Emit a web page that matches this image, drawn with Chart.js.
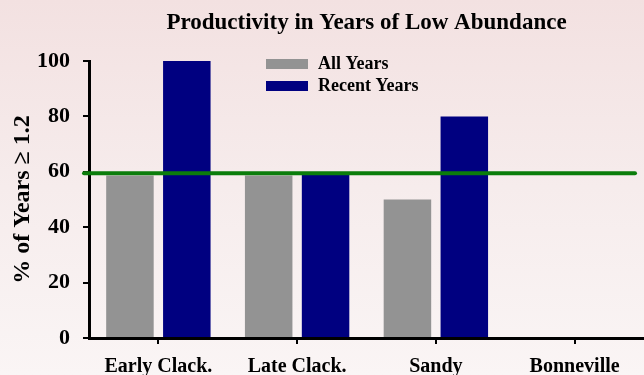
<!DOCTYPE html>
<html>
<head>
<meta charset="utf-8">
<script src="https://cdn.jsdelivr.net/npm/chart.js@4/dist/chart.umd.min.js"></script>
<style>
    html, body { margin: 0; padding: 0; }
    body {
        width: 644px; height: 375px; overflow: hidden;
        background: linear-gradient(to bottom, #f3e1e1 0%, #f6ecec 50%, #faf5f5 100%);
    }
    #wrap { width: 644px; height: 375px; position: relative; }
</style>
</head>
<body>
<div id="wrap"><canvas id="prodChart"></canvas></div>
<script>
// values
const categories = ['Early Clack.', 'Late Clack.', 'Sandy', 'Bonneville'];
const allYears = [58.7, 58.7, 50, null];
const recentYears = [100, 59, 80, null];
const threshold = 59.5;
const yMin = 0, yMax = 100, yStep = 20;

const serif = "'Liberation Serif', 'Times New Roman', serif";

// green reference line across the plot
const thresholdLine = {
    id: 'thresholdLine',
    afterDatasetsDraw(chart) {
        const { ctx, chartArea, scales } = chart;
        const y = scales.y.getPixelForValue(threshold);
        ctx.save();
        ctx.strokeStyle = '#0b7d0b';
        ctx.lineWidth = 4;
        ctx.lineCap = 'round';
        ctx.beginPath();
        ctx.moveTo(chartArea.left - 5, y);
        ctx.lineTo(chartArea.right - 9, y);
        ctx.stroke();
        ctx.restore();
    }
};

// legend sits inside the plot, near the top
const insideLegend = {
    id: 'insideLegend',
    afterDraw(chart) {
        const { ctx } = chart;
        ctx.save();
        ctx.font = 'bold 18px ' + serif;
        ctx.textBaseline = 'middle';
        chart.data.datasets.forEach(function(ds, i) {
            const top = 59 + i * 22;
            ctx.fillStyle = ds.backgroundColor;
            ctx.fillRect(266, top, 42, 10);
            ctx.fillStyle = '#000';
            ctx.fillText(ds.label, 318, top + 5);
        });
        ctx.restore();
    }
};

new Chart(document.getElementById('prodChart'), {
    type: 'bar',
    data: {
        labels: categories,
        datasets: [
            { label: 'All Years', data: allYears, backgroundColor: '#939393' },
            { label: 'Recent Years', data: recentYears, backgroundColor: '#000080' }
        ]
    },
    options: {
        responsive: true,
        maintainAspectRatio: false,
        animation: false,
        categoryPercentage: 0.82,
        barPercentage: 0.835,
        layout: { padding: 0 },
        plugins: {
            legend: { display: false },
            tooltip: { enabled: false },
            title: {
                display: true,
                fullSize: false,
                text: 'Productivity in Years of Low Abundance',
                color: '#000',
                font: { family: serif, size: 23, weight: 'bold', lineHeight: 1.2 },
                padding: { top: 9, bottom: 24.4 }
            }
        },
        scales: {
            x: {
                offset: true,
                afterFit(scale) { scale.height = 37; },
                grid: { offset: false, drawOnChartArea: false, drawTicks: true, tickLength: 6, color: '#000', lineWidth: 2 },
                border: { display: true, color: '#000', width: 3 },
                ticks: { color: '#000', padding: 11, maxRotation: 0, font: { family: serif, size: 20, weight: 'bold' } }
            },
            y: {
                min: yMin,
                max: yMax,
                afterFit(scale) { scale.width = 89; },
                grid: { drawOnChartArea: false, drawTicks: true, tickLength: 6, color: '#000', lineWidth: 2 },
                border: { display: true, color: '#000', width: 3 },
                ticks: { stepSize: yStep, color: '#000', padding: 13, font: { family: serif, size: 22, weight: 'bold' } },
                title: {
                    display: true,
                    text: '% of Years \u2265 1.2',
                    color: '#000',
                    padding: { top: 8, bottom: 0 },
                    font: { family: serif, size: 24, weight: 'bold', lineHeight: 1.2 }
                }
            }
        }
    },
    plugins: [thresholdLine, insideLegend]
});
</script>
</body>
</html>
